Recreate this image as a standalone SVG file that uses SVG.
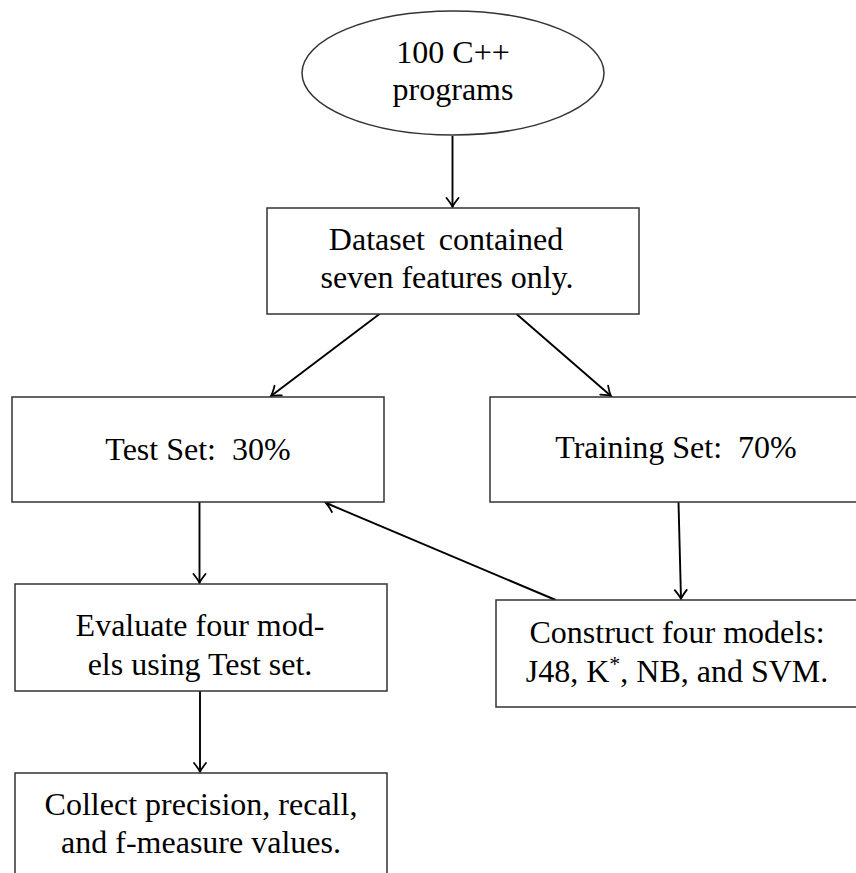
<svg xmlns="http://www.w3.org/2000/svg" width="856" height="873" viewBox="0 0 856 873">
  <defs>
    <style>
      .node { fill: #ffffff; stroke: #333333; stroke-width: 1.5; }
      .label { font-family: "Liberation Serif", "Times New Roman", serif; font-size: 32px; fill: #000000; text-anchor: middle; }
      .edge { fill: none; stroke: #000000; stroke-width: 1.9; marker-end: url(#arrow); }
    </style>
    <marker id="arrow" viewBox="-12 -8 14 16" markerWidth="14" markerHeight="16" refX="0" refY="0" orient="auto" markerUnits="userSpaceOnUse">
      <path d="M -9 -6 Q -3 -1.2 0 0 Q -3 1.2 -9 6" fill="none" stroke="#000000" stroke-width="1.8" stroke-linecap="round"/>
    </marker>
  </defs>

  <rect width="856" height="873" fill="#ffffff"/>

  <!-- connectors -->
  <g id="connectors">
    <line class="edge" x1="452.5" y1="136" x2="452.5" y2="207"/>
    <line class="edge" x1="379.5" y1="314" x2="271" y2="396"/>
    <line class="edge" x1="516.5" y1="314" x2="611" y2="396"/>
    <line class="edge" x1="199.5" y1="502" x2="199.5" y2="583"/>
    <line class="edge" x1="678.5" y1="502" x2="681" y2="599"/>
    <line class="edge" x1="555.7" y1="600" x2="326" y2="503"/>
    <line class="edge" x1="200" y1="691" x2="200" y2="772"/>
  </g>

  <!-- source: the program corpus -->
  <g id="programs">
    <ellipse class="node" cx="453" cy="73" rx="151" ry="62" stroke-width="1.2"/>
    <text class="label" x="453" y="63">100 C++</text>
    <text class="label" x="453" y="100">programs</text>
  </g>

  <g id="dataset">
    <rect class="node" x="267" y="208" width="372" height="106"/>
    <text class="label" x="446" y="250" word-spacing="6">Dataset contained</text>
    <text class="label" x="447" y="288">seven features only.</text>
  </g>

  <g id="test-set">
    <rect class="node" x="12" y="397" width="372" height="105"/>
    <text class="label" x="198" y="460">Test Set:&#160; 30%</text>
  </g>

  <g id="training-set">
    <rect class="node" x="490" y="397" width="372" height="105"/>
    <text class="label" x="676" y="458">Training Set:&#160; 70%</text>
  </g>

  <g id="evaluate">
    <rect class="node" x="15" y="584" width="372" height="107"/>
    <text class="label" x="200" y="636">Evaluate four mod-</text>
    <text class="label" x="200" y="675">els using Test set.</text>
  </g>

  <g id="construct">
    <rect class="node" x="496" y="600" width="372" height="107"/>
    <text class="label" x="677" y="643">Construct four models:</text>
    <text class="label" x="677" y="682">J48, K<tspan font-size="22" dy="-11">*</tspan><tspan dy="11">, NB, and SVM.</tspan></text>
  </g>

  <g id="collect">
    <rect class="node" x="15" y="773" width="372" height="110"/>
    <text class="label" x="201" y="815">Collect precision, recall,</text>
    <text class="label" x="201" y="853">and f-measure values.</text>
  </g>
</svg>
